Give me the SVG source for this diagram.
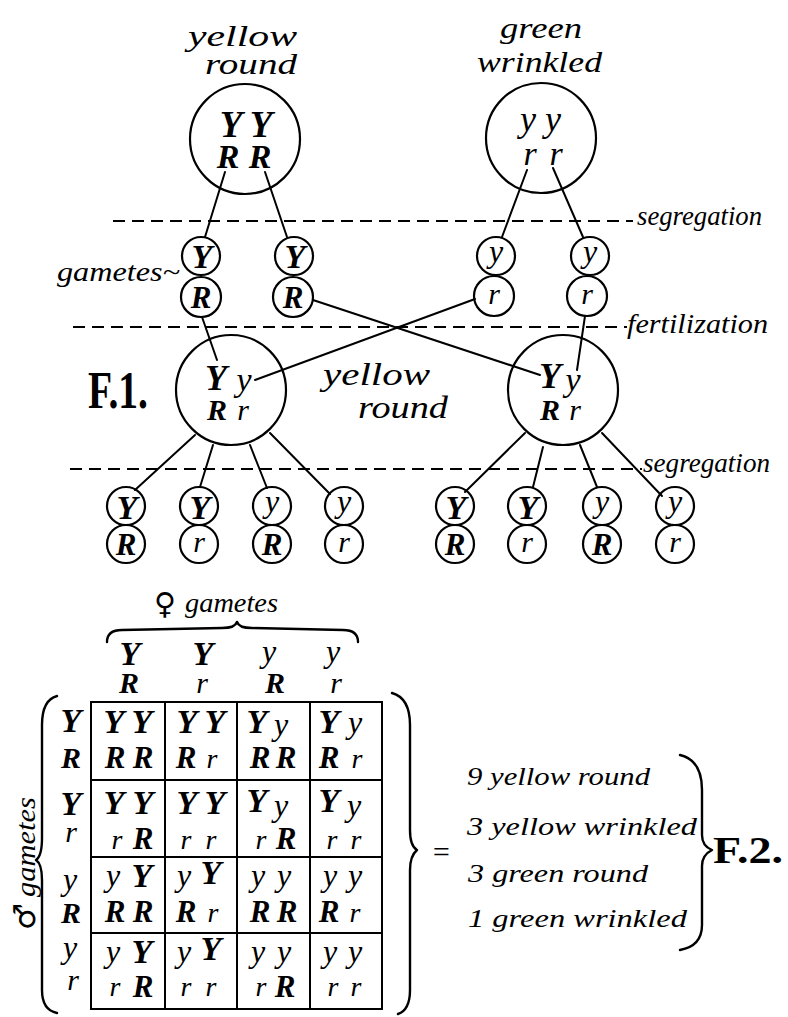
<svg xmlns="http://www.w3.org/2000/svg" width="788" height="1017" viewBox="0 0 788 1017">
<style>
.ln{stroke:#000;stroke-width:2;fill:none;stroke-linecap:round}
.c{fill:none;stroke:#000;stroke-width:2.2}
.d{stroke:#000;stroke-width:2.2;stroke-dasharray:12 7;fill:none}
.br{fill:none;stroke:#000;stroke-width:2.4;stroke-linecap:round;stroke-linejoin:round}
.lbl{font-family:"Liberation Serif","DejaVu Serif",serif;font-style:italic;fill:#000}
.t{font-family:"Liberation Serif","DejaVu Serif",serif;font-style:italic;fill:#000;text-anchor:middle}
.B{font-weight:bold}
.F{font-family:"Liberation Serif","DejaVu Serif",serif;font-weight:bold;fill:#000}
.sym{font-family:"DejaVu Sans",sans-serif;font-style:normal}
</style>
<rect width="788" height="1017" fill="#fff"/>

<g id="dashed-lines">
<line class="d" x1="113" y1="221" x2="633" y2="221"/>
<line class="d" x1="73" y1="327" x2="627" y2="327"/>
<line class="d" x1="70" y1="469" x2="642" y2="469"/>
</g>

<g id="connectors">
<line class="ln" x1="225" y1="172" x2="205" y2="237"/>
<line class="ln" x1="265" y1="172" x2="287" y2="237"/>
<line class="ln" x1="527" y1="170" x2="502" y2="237"/>
<line class="ln" x1="553" y1="168" x2="583" y2="237"/>
<line class="ln" x1="313" y1="300" x2="540" y2="375"/>
<line class="ln" x1="475" y1="299" x2="255" y2="380"/>
<line class="ln" x1="202" y1="317" x2="217" y2="360"/>
<line class="ln" x1="585" y1="316" x2="577" y2="370"/>
<line class="ln" x1="195" y1="435" x2="135" y2="490"/>
<line class="ln" x1="213" y1="445" x2="200" y2="487"/>
<line class="ln" x1="250" y1="445" x2="267" y2="488"/>
<line class="ln" x1="270" y1="433" x2="330" y2="494"/>
<line class="ln" x1="525" y1="433" x2="465" y2="492"/>
<line class="ln" x1="543" y1="447" x2="533" y2="487"/>
<line class="ln" x1="580" y1="445" x2="597" y2="487"/>
<line class="ln" x1="602" y1="433" x2="662" y2="496"/>
</g>

<g id="labels">
<text class="lbl" x="188" y="46" font-size="30" textLength="109" lengthAdjust="spacingAndGlyphs">yellow</text>
<text class="lbl" x="205" y="74" font-size="30" textLength="92" lengthAdjust="spacingAndGlyphs">round</text>
<text class="lbl" x="500" y="38" font-size="30" textLength="82" lengthAdjust="spacingAndGlyphs">green</text>
<text class="lbl" x="477" y="72" font-size="30" textLength="125" lengthAdjust="spacingAndGlyphs">wrinkled</text>
<text class="lbl" x="637" y="225" font-size="28" textLength="125" lengthAdjust="spacingAndGlyphs">segregation</text>
<text class="lbl" x="627" y="333" font-size="28" textLength="141" lengthAdjust="spacingAndGlyphs">fertilization</text>
<text class="lbl" x="643" y="472" font-size="28" textLength="127" lengthAdjust="spacingAndGlyphs">segregation</text>
<text class="lbl" x="57" y="281" font-size="28" textLength="123" lengthAdjust="spacingAndGlyphs">gametes~</text>
<text class="lbl" x="323" y="385" font-size="31" textLength="107" lengthAdjust="spacingAndGlyphs">yellow</text>
<text class="lbl" x="358" y="418" font-size="31" textLength="90" lengthAdjust="spacingAndGlyphs">round</text>
<text class="F" x="88" y="408" font-size="52" textLength="60" lengthAdjust="spacingAndGlyphs">F.1.</text>
</g>

<g id="parent-yellow-round">
<circle class="c" cx="245" cy="139" r="55"/>
<text class="t B"><tspan x="231" y="137" font-size="37">Y</tspan><tspan x="261" y="137" font-size="37">Y</tspan><tspan x="228" y="168" font-size="34">R</tspan><tspan x="260" y="168" font-size="34">R</tspan></text>
</g>

<g id="parent-green-wrinkled">
<circle class="c" cx="541" cy="138" r="55"/>
<text class="t"><tspan x="528" y="131" font-size="36">y</tspan><tspan x="553" y="131" font-size="36">y</tspan><tspan x="530" y="165" font-size="34">r</tspan><tspan x="556" y="165" font-size="34">r</tspan></text>
</g>

<g id="gamete-1">
<circle class="c" cx="201" cy="256" r="19"/><circle class="c" cx="201" cy="297" r="20"/>
<text class="t B"><tspan x="202" y="268" font-size="34">Y</tspan><tspan x="201" y="308" font-size="31">R</tspan></text>
</g>
<g id="gamete-2">
<circle class="c" cx="294" cy="256" r="19"/><circle class="c" cx="293" cy="297" r="20"/>
<text class="t B"><tspan x="295" y="268" font-size="34">Y</tspan><tspan x="293" y="308" font-size="31">R</tspan></text>
</g>
<g id="gamete-3">
<circle class="c" cx="496" cy="256" r="19"/><circle class="c" cx="494" cy="296" r="20"/>
<text class="t"><tspan x="496" y="262" font-size="32">y</tspan><tspan x="494" y="304" font-size="30">r</tspan></text>
</g>
<g id="gamete-4">
<circle class="c" cx="590" cy="256" r="19"/><circle class="c" cx="587" cy="296" r="20"/>
<text class="t"><tspan x="590" y="262" font-size="32">y</tspan><tspan x="587" y="304" font-size="30">r</tspan></text>
</g>

<g id="f1-left">
<circle class="c" cx="231" cy="390" r="55"/>
<text class="t"><tspan class="B" x="216" y="390" font-size="36">Y</tspan><tspan x="244" y="391" font-size="34">y</tspan><tspan class="B" x="217" y="420" font-size="30">R</tspan><tspan x="243" y="420" font-size="30">r</tspan></text>
</g>
<g id="f1-right">
<circle class="c" cx="563" cy="390" r="55"/>
<text class="t"><tspan class="B" x="550" y="388" font-size="36">Y</tspan><tspan x="573" y="391" font-size="34">y</tspan><tspan class="B" x="550" y="420" font-size="30">R</tspan><tspan x="575" y="420" font-size="30">r</tspan></text>
</g>

<g id="f1-gametes-left">
<circle class="c" cx="126" cy="506" r="19"/><circle class="c" cx="126" cy="544" r="19"/>
<circle class="c" cx="199" cy="506" r="19"/><circle class="c" cx="199" cy="544" r="19"/>
<circle class="c" cx="272" cy="506" r="19"/><circle class="c" cx="272" cy="544" r="19"/>
<circle class="c" cx="344" cy="506" r="19"/><circle class="c" cx="344" cy="544" r="19"/>
<text class="t"><tspan class="B" x="127" y="519" font-size="34">Y</tspan><tspan class="B" x="126" y="555" font-size="31">R</tspan><tspan class="B" x="200" y="519" font-size="34">Y</tspan><tspan x="199" y="552" font-size="30">r</tspan><tspan x="272" y="512" font-size="32">y</tspan><tspan class="B" x="272" y="555" font-size="31">R</tspan><tspan x="344" y="512" font-size="32">y</tspan><tspan x="344" y="552" font-size="30">r</tspan></text>
</g>
<g id="f1-gametes-right">
<circle class="c" cx="455" cy="506" r="19"/><circle class="c" cx="455" cy="544" r="19"/>
<circle class="c" cx="527" cy="506" r="19"/><circle class="c" cx="527" cy="544" r="19"/>
<circle class="c" cx="602" cy="506" r="19"/><circle class="c" cx="602" cy="544" r="19"/>
<circle class="c" cx="675" cy="506" r="19"/><circle class="c" cx="675" cy="544" r="19"/>
<text class="t"><tspan class="B" x="456" y="519" font-size="34">Y</tspan><tspan class="B" x="455" y="555" font-size="31">R</tspan><tspan class="B" x="528" y="519" font-size="34">Y</tspan><tspan x="527" y="552" font-size="30">r</tspan><tspan x="602" y="512" font-size="32">y</tspan><tspan class="B" x="602" y="555" font-size="31">R</tspan><tspan x="675" y="512" font-size="32">y</tspan><tspan x="675" y="552" font-size="30">r</tspan></text>
</g>

<g id="female-gametes">
<text class="lbl sym" x="154" y="614" font-size="30">♀</text>
<text class="lbl" x="185" y="612" font-size="28" textLength="93" lengthAdjust="spacingAndGlyphs">gametes</text>
<path class="br" d="M107,642 Q107,630 122,630 L222,628 Q235,628 237,622 Q239,628 252,628 L343,630 Q358,630 358,642"/>
<text class="t"><tspan class="B" x="130" y="665" font-size="34">Y</tspan><tspan class="B" x="129" y="693" font-size="30">R</tspan><tspan class="B" x="203" y="665" font-size="34">Y</tspan><tspan x="202" y="693" font-size="30">r</tspan><tspan x="269" y="662" font-size="32">y</tspan><tspan class="B" x="275" y="693" font-size="30">R</tspan><tspan x="333" y="662" font-size="32">y</tspan><tspan x="336" y="693" font-size="30">r</tspan></text>
</g>

<g id="male-gametes">
<text class="lbl" transform="translate(35,930) rotate(-90)" font-size="28"><tspan class="sym" font-size="30">♂</tspan><tspan dx="6" textLength="100" lengthAdjust="spacingAndGlyphs">gametes</tspan></text>
<path class="br" d="M57,696 Q42,700 42,725 L42,838 Q42,856 36,860 Q42,864 42,880 L42,990 Q42,1010 57,1013"/>
<text class="t"><tspan class="B" x="71" y="732" font-size="34">Y</tspan><tspan class="B" x="71" y="768" font-size="30">R</tspan><tspan class="B" x="71" y="815" font-size="34">Y</tspan><tspan x="71" y="842" font-size="30">r</tspan><tspan x="70" y="890" font-size="32">y</tspan><tspan class="B" x="71" y="923" font-size="30">R</tspan><tspan x="70" y="958" font-size="32">y</tspan><tspan x="73" y="990" font-size="30">r</tspan></text>
<path class="br" d="M392,693 Q410,698 410,725 L410,830 Q410,846 417,850 Q410,856 410,870 L410,990 Q410,1010 398,1014"/>
</g>

<g id="punnett-grid">
<rect x="91" y="702" width="291" height="307" fill="none" stroke="#000" stroke-width="2"/>
<line class="ln" x1="165" y1="702" x2="165" y2="1009"/>
<line class="ln" x1="237" y1="702" x2="237" y2="1009"/>
<line class="ln" x1="310" y1="702" x2="310" y2="1009"/>
<line class="ln" x1="91" y1="780" x2="382" y2="780"/>
<line class="ln" x1="91" y1="857" x2="382" y2="857"/>
<line class="ln" x1="91" y1="933" x2="382" y2="933"/>
</g>

<g id="punnett-cells">
<text class="t"><tspan class="B" x="114" y="733" font-size="34">Y</tspan><tspan class="B" x="142" y="733" font-size="34">Y</tspan><tspan class="B" x="115" y="768" font-size="31">R</tspan><tspan class="B" x="143" y="768" font-size="31">R</tspan></text>
<text class="t"><tspan class="B" x="187" y="733" font-size="34">Y</tspan><tspan class="B" x="215" y="733" font-size="34">Y</tspan><tspan class="B" x="186" y="768" font-size="31">R</tspan><tspan x="212" y="768" font-size="28">r</tspan></text>
<text class="t"><tspan class="B" x="257" y="733" font-size="34">Y</tspan><tspan x="281" y="735" font-size="32">y</tspan><tspan class="B" x="260" y="768" font-size="31">R</tspan><tspan class="B" x="286" y="768" font-size="31">R</tspan></text>
<text class="t"><tspan class="B" x="329" y="733" font-size="34">Y</tspan><tspan x="355" y="733" font-size="32">y</tspan><tspan class="B" x="329" y="768" font-size="31">R</tspan><tspan x="357" y="768" font-size="28">r</tspan></text>

<text class="t"><tspan class="B" x="114" y="814" font-size="34">Y</tspan><tspan class="B" x="143" y="814" font-size="34">Y</tspan><tspan x="117" y="849" font-size="28">r</tspan><tspan class="B" x="143" y="849" font-size="31">R</tspan></text>
<text class="t"><tspan class="B" x="187" y="814" font-size="34">Y</tspan><tspan class="B" x="215" y="814" font-size="34">Y</tspan><tspan x="186" y="849" font-size="28">r</tspan><tspan x="211" y="849" font-size="28">r</tspan></text>
<text class="t"><tspan class="B" x="257" y="812" font-size="34">Y</tspan><tspan x="281" y="816" font-size="32">y</tspan><tspan x="261" y="849" font-size="28">r</tspan><tspan class="B" x="286" y="849" font-size="31">R</tspan></text>
<text class="t"><tspan class="B" x="329" y="812" font-size="34">Y</tspan><tspan x="354" y="816" font-size="32">y</tspan><tspan x="332" y="849" font-size="28">r</tspan><tspan x="356" y="849" font-size="28">r</tspan></text>

<text class="t"><tspan x="113" y="886" font-size="32">y</tspan><tspan class="B" x="142" y="887" font-size="34">Y</tspan><tspan class="B" x="115" y="922" font-size="31">R</tspan><tspan class="B" x="143" y="922" font-size="31">R</tspan></text>
<text class="t"><tspan x="184" y="886" font-size="32">y</tspan><tspan class="B" x="211" y="884" font-size="34">Y</tspan><tspan class="B" x="186" y="922" font-size="31">R</tspan><tspan x="213" y="922" font-size="28">r</tspan></text>
<text class="t"><tspan x="258" y="886" font-size="32">y</tspan><tspan x="284" y="886" font-size="32">y</tspan><tspan class="B" x="260" y="922" font-size="31">R</tspan><tspan class="B" x="287" y="922" font-size="31">R</tspan></text>
<text class="t"><tspan x="330" y="886" font-size="32">y</tspan><tspan x="355" y="886" font-size="32">y</tspan><tspan class="B" x="329" y="922" font-size="31">R</tspan><tspan x="355" y="922" font-size="28">r</tspan></text>

<text class="t"><tspan x="113" y="962" font-size="32">y</tspan><tspan class="B" x="142" y="963" font-size="34">Y</tspan><tspan x="115" y="996" font-size="28">r</tspan><tspan class="B" x="143" y="997" font-size="31">R</tspan></text>
<text class="t"><tspan x="184" y="962" font-size="32">y</tspan><tspan class="B" x="211" y="960" font-size="34">Y</tspan><tspan x="186" y="996" font-size="28">r</tspan><tspan x="211" y="996" font-size="28">r</tspan></text>
<text class="t"><tspan x="258" y="962" font-size="32">y</tspan><tspan x="284" y="962" font-size="32">y</tspan><tspan x="261" y="996" font-size="28">r</tspan><tspan class="B" x="285" y="997" font-size="31">R</tspan></text>
<text class="t"><tspan x="330" y="962" font-size="32">y</tspan><tspan x="355" y="962" font-size="32">y</tspan><tspan x="333" y="996" font-size="28">r</tspan><tspan x="356" y="996" font-size="28">r</tspan></text>
</g>

<g id="f2-results">
<text class="lbl" x="431" y="862" font-size="30" font-style="normal">=</text>
<text class="lbl" x="467" y="785" font-size="26" textLength="183" lengthAdjust="spacingAndGlyphs">9 yellow round</text>
<text class="lbl" x="467" y="835" font-size="26" textLength="230" lengthAdjust="spacingAndGlyphs">3 yellow wrinkled</text>
<text class="lbl" x="468" y="882" font-size="26" textLength="180" lengthAdjust="spacingAndGlyphs">3 green round</text>
<text class="lbl" x="468" y="927" font-size="26" textLength="219" lengthAdjust="spacingAndGlyphs">1 green wrinkled</text>
<path class="br" d="M680,755 Q702,760 702,790 L702,835 Q702,846 712,850 Q702,855 702,866 L702,925 Q702,946 680,950"/>
<text class="F" x="713" y="863" font-size="38" textLength="70" lengthAdjust="spacingAndGlyphs">F.2.</text>
</g>
</svg>
